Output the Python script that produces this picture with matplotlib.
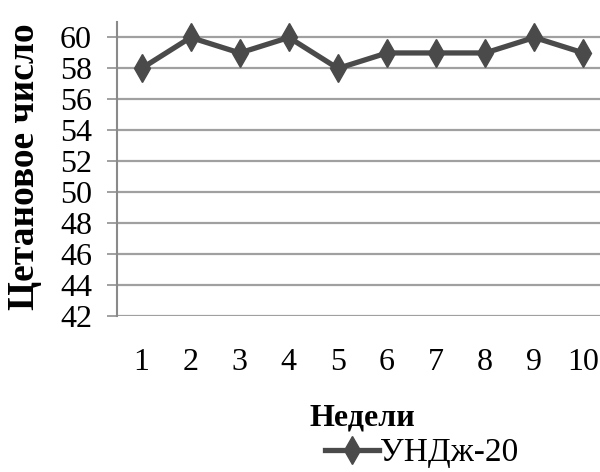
import matplotlib
matplotlib.use("Agg")
import matplotlib.pyplot as plt

weeks = [1, 2, 3, 4, 5, 6, 7, 8, 9, 10]
cetane = [58, 60, 59, 60, 58, 59, 59, 59, 60, 59]
yticks = [42, 44, 46, 48, 50, 52, 54, 56, 58, 60]

plt.rcParams['font.family'] = ['Liberation Serif', 'DejaVu Serif']

fig = plt.figure(figsize=(6, 4.72), dpi=100)
ax = fig.add_axes([117/600, 1-316/472, 491/600, 294/472])

ax.plot(weeks, cetane, color='#4a4a4a', lw=3.8, marker='d', ms=14,
        label='УНДж-20')

ax.set_xlim(0.5, 10.5)
ax.set_ylim(42, 61)
ax.set_yticks(yticks)
ax.set_xticks(weeks)
ax.yaxis.grid(True, color='#a0a0a0', lw=1.6)
ax.set_axisbelow(True)
for s in ['top', 'right', 'bottom']:
    ax.spines[s].set_visible(False)
ax.spines['left'].set_color('#8a8a8a')
ax.spines['left'].set_linewidth(1.5)
ax.tick_params(axis='y', direction='out', length=7, width=1.4, color='#a0a0a0',
               labelsize=23, pad=11)
ax.tick_params(axis='x', length=0, labelsize=23, pad=23)

fig.text(25/600, 1-167/472, 'Цетановое число', rotation=90, fontsize=27,
         fontweight='bold', ha='center', va='center')
fig.text(362/600, 1-418/472, 'Недели', fontsize=23, fontweight='bold',
         ha='center', va='center')
fig.legend(loc='center left', bbox_to_anchor=(312/600, 1-453/472), frameon=False,
           fontsize=24, handlelength=1.6, handletextpad=0.05, borderaxespad=0)

fig.savefig('out.png', dpi=100)
